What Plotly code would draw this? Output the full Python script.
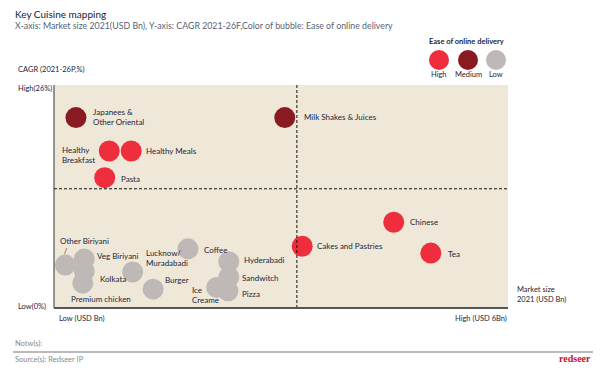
import plotly.graph_objects as go

# ---- data ----
cuisines = ["Japanees &<br>Other Oriental", "Milk Shakes & Juices", "Healthy<br>Breakfast", "Healthy Meals",
            "Pasta", "Cakes and Pastries", "Chinese", "Tea",
            "Other Biriyani", "Veg Biriyani", "Kolkata", "Premium chicken",
            "Lucknow/<br>Muradabadi", "Coffee", "Burger", "Hyderabadi", "Sandwitch",
            "Ice<br>Creame", "Pizza"]
market_size = [0.29, 3.05, 0.73, 1.02, 0.67, 3.28, 4.49, 4.98,
               0.15, 0.40, 0.40, 0.38, 1.04, 1.77, 1.31, 2.31, 2.31, 2.15, 2.30]
cagr = [22.2, 22.2, 18.3, 18.3, 15.2, 7.2, 10.0, 6.4,
        5.0, 5.7, 4.3, 2.9, 4.2, 6.9, 2.2, 5.4, 3.6, 2.4, 2.0]
ease = ["Medium", "Medium", "High", "High", "High", "High", "High", "High",
        "Low", "Low", "Low", "Low", "Low", "Low", "Low", "Low", "Low", "Low", "Low"]
x_split = 3.21
y_split = 13.9
x_max = 6
y_max = 26

# ---- styles ----
colors = {"High": "#EE2E3D", "Medium": "#8A1A22", "Low": "#BEB9B7"}
# label offsets in pixels relative to bubble centre (dx, dy, anchor)
label_pos = [(15, 1, "left"), (17, 1, "left"), (-12, -4, "right"), (13, 0, "left"),
             (14, -1, "left"), (13, 0, "left"), (14, 0, "left"), (15, -1, "left"),
             (-7, 24, "left"), (11, 3, "left"), (14, -8, "left"), (-14, -16, "left"),
             (11, 14, "left"), (14, -1, "left"), (10, 9, "left"), (13, 2, "left"), (11, -1, "left"),
             (-27, -8, "left"), (12, -3, "left")]
txt = "#23253A"
font = "Lato"

fig = go.Figure()
fig.add_trace(go.Scatter(
    x=market_size, y=cagr, mode="markers",
    marker=dict(size=21, color=[colors[e] for e in ease], line=dict(width=0), opacity=1),
    hoverinfo="skip", showlegend=False, cliponaxis=False))

ann = []
for name, xv, yv, (dx, dy, anc) in zip(cuisines, market_size, cagr, label_pos):
    ann.append(dict(x=xv, y=yv, xref="x", yref="y", text=name, showarrow=False,
                    xanchor=anc, yanchor="middle", align="left", xshift=dx, yshift=dy,
                    font=dict(size=8, color=txt)))
# the "/" under "Other Biriyani"
ann.append(dict(x=market_size[8], y=cagr[8], xref="x", yref="y", text="/", showarrow=False,
                xanchor="center", yanchor="middle", xshift=0, yshift=14, borderpad=0,
                font=dict(size=7, color=txt)))

def paper_text(x, y, text, size=8, color=txt, xanchor="left", yanchor="middle", align="left"):
    ann.append(dict(x=x, y=y, xref="paper", yref="paper", text=text, showarrow=False,
                    xanchor=xanchor, yanchor=yanchor, align=align,
                    font=dict(size=size, color=color)))

W, H = 601, 372
L, R, T, B = 54, 93, 85, 64
pw, ph = W - L - R, H - T - B
def px(xp): return (xp - L) / pw
def py(yp): return (H - B - yp) / ph

paper_text(px(13), py(14), "Key Cuisine mapping", size=10, color="#1A1A2E")
paper_text(px(13), py(26), "X-axis: Market size 2021(USD Bn), Y-axis: CAGR 2021-26F,Color of bubble: Ease of online delivery",
           size=8.8, color="#5A5F73")
paper_text(px(16), py(69), "CAGR (2021-26P,%)", size=7.5)
paper_text(px(16), py(88), "High(26%)", size=7.5)
paper_text(px(16), py(306), "Low(0%)", size=7.5)
paper_text(px(57), py(318), "Low (USD Bn)", size=7.5)
paper_text(px(509), py(318), "High (USD 6Bn)", size=7.5, xanchor="right")
paper_text(px(515), py(294), "Market size<br>2021 (USD Bn)", size=7.5)
paper_text(px(466), py(41), "<b>Ease of online delivery</b>", size=7.5, xanchor="center")
for lx, lab in [(439, "High"), (468, "Medium"), (496, "Low")]:
    paper_text(px(lx), py(74), lab, size=7.5, xanchor="center")
paper_text(px(13), py(343), "Notw(s):", size=7.5, color="#8A8A8A")
paper_text(px(13), py(359), "Source(s): Redseer IP", size=7.5, color="#8A8A8A")
ann.append(dict(x=px(593), y=py(358), xref="paper", yref="paper", text="<b>redseer</b>", showarrow=False,
                xanchor="right", yanchor="middle", font=dict(size=10, color="#C8102E", family="Liberation Serif")))

shapes = [
    dict(type="line", xref="x", yref="y", x0=x_split, x1=x_split, y0=0, y1=y_max,
         line=dict(color="#111", width=1, dash="3px,2px")),
    dict(type="line", xref="x", yref="y", x0=0, x1=x_max, y0=y_split, y1=y_split,
         line=dict(color="#111", width=1, dash="3px,2px")),
    dict(type="line", xref="paper", yref="paper", x0=0, x1=0, y0=0, y1=1, line=dict(color="#333", width=1)),
    dict(type="line", xref="paper", yref="paper", x0=0, x1=1, y0=0, y1=0, line=dict(color="#555", width=2)),
    dict(type="line", xref="paper", yref="paper", x0=px(13), x1=px(593), y0=py(352), y1=py(352),
         line=dict(color="#777", width=1)),
]
for lx, lvl in [(439, "High"), (468, "Medium"), (496, "Low")]:
    shapes.append(dict(type="circle", xref="paper", yref="paper", xsizemode="pixel", ysizemode="pixel",
                       xanchor=px(lx), yanchor=py(60), x0=-10, x1=10, y0=-10, y1=10,
                       fillcolor=colors[lvl], line=dict(width=0)))

fig.update_layout(
    width=W, height=H, margin=dict(l=L, r=R, t=T, b=B),
    paper_bgcolor="white", plot_bgcolor="#EFE8D8",
    font=dict(family=font, color=txt),
    xaxis=dict(range=[0, x_max], showgrid=False, zeroline=False, showticklabels=False, ticks="", fixedrange=True),
    yaxis=dict(range=[0, y_max], showgrid=False, zeroline=False, showticklabels=False, ticks="", fixedrange=True),
    annotations=ann, shapes=shapes,
)
fig.write_html("out.html", config={"displayModeBar": False},
               post_script="document.body.style.margin='0';")
